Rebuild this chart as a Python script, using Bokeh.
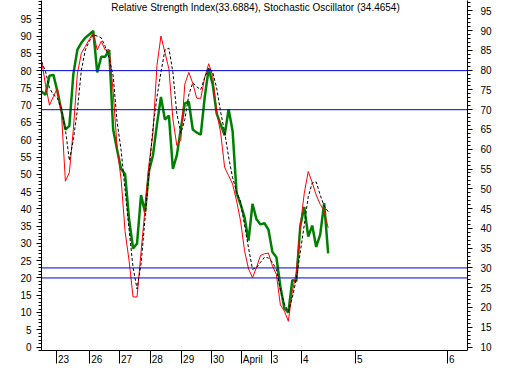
from bokeh.plotting import figure
from bokeh.models import LinearAxis, Range1d, FixedTicker, Span, Label
from bokeh.embed import file_html
from bokeh.resources import INLINE

# Stochastic %K (red), left axis
stoch_k = [83, 76, 70, 72.5, 75, 68, 48, 50.5, 63, 79, 85, 87, 89, 91, 86,
           88.5, 86, 86, 74, 57.5, 48.5, 33.4, 25, 14.5, 14.5, 27.5, 39.9, 53, 62, 81.5, 90,
           85.3, 80.5, 66, 58.3, 60, 76.1, 79.5, 76.3, 72, 72, 78, 82, 78.5, 68, 62,
           52, 49.6, 47.2, 42.3, 36.5, 27.9, 22.6, 20.1, 23, 26.5, 27, 27.2, 23.5, 21, 12.2,
           10.4, 7.5, 16, 21.5, 35, 44.5, 50.8, 47.6, 44, 41.3, 39.4, 34.5]
# Stochastic %D (black dashed), left axis
stoch_d = [82.6, 79.8, 75, 73, 72, 69, 63, 54, 60, 68.5, 80, 86, 88.5, 90.4, 90,
           89.5, 87, 83.5, 78.5, 65, 57, 45.4, 34, 23, 16.8, 24, 37.1, 50.5, 63.5, 72.4, 79.5,
           86, 86.5, 79.5, 67.5, 61.9, 65.8, 73, 76.5, 75.3, 74.5, 78, 80.8, 79.5, 75, 68,
           62.2, 55, 49, 45, 42, 35.3, 28.7, 22.5, 23, 24.5, 26, 25.8, 24.5, 22.5, 16.5,
           12.5, 10.2, 14.3, 19.7, 27.5, 35.3, 43.5, 47.5, 47.8, 44, 40.8, 39.2]
# Relative Strength Index (green), right axis
rsi = [74.6, 73.8, 78.6, 78.8, 74.6, 69.8, 65.0, 65.9, 79.0, 85.1, 86.9, 88.2, 89.0, 89.9, 79.4,
       83.4, 83.4, 85.1, 65.0, 59.8, 55.0, 53.7, 42.3, 34.9, 36.2, 48.4, 44.1, 54.5, 58.5, 66.3, 73.2,
       67.5, 68.5, 55.0, 58.5, 65.2, 71.6, 72.0, 65.0, 64.2, 63.7, 73.2, 80.4, 76.4, 69.0, 66.3,
       63.5, 70.1, 64.6, 48.9, 46.1, 42.8, 36.9, 46.2, 42.3, 41.0, 41.3, 39.7, 34.0, 32.7, 25.3,
       19.8, 18.7, 26.9, 26.7, 40.6, 45.4, 37.9, 40.7, 35.3, 38.4, 46.4, 33.7]

day_labels = ["23", "26", "27", "28", "29", "30", "April", "3", "4", "5", "6"]
day_start_bar = [3.75, 12.1, 19.6, 27.3, 35.2, 42.7, 50.2, 57.7, 65.3, 78.9, 102.0]

stoch_levels = [80, 20]
rsi_levels = [70, 30]
left_ticks = list(range(0, 100, 5))
right_ticks = list(range(10, 100, 5))
title_text = "Relative Strength Index(33.6884), Stochastic Oscillator (34.4654)"

bars = list(range(len(stoch_k)))
FONT = "Liberation Sans"
FS = 10  # px
PX_PER_BAR = 4.0

# approximate glyph advance widths (em) to place day labels just right of their tick line
_adv = {"A": 0.667, "p": 0.556, "r": 0.333, "i": 0.222, "l": 0.222}
def text_w(s):
    return sum(_adv.get(c, 0.556) for c in s) * FS

label_centers = [t + (text_w(s) / 2 + 1.5) / PX_PER_BAR for t, s in zip(day_start_bar, day_labels)]

Y0, Y1 = -1.0, 100.3
p = figure(width=494, height=367, output_backend="svg", toolbar_location=None,
           x_range=Range1d(0, 107), y_range=Range1d(Y0, Y1),
           min_border_left=41, min_border_right=25, min_border_top=0, min_border_bottom=11)
p.extra_y_ranges = {"rsi": Range1d(10 + 0.8734 * Y0, 10 + 0.8734 * Y1)}
p.grid.visible = False
p.outline_line_color = None
p.background_fill_color = "white"
p.border_fill_color = "white"

def style_axis(ax):
    ax.axis_line_color = "black"
    ax.major_tick_line_color = "black"
    ax.minor_tick_line_color = "black"
    ax.major_label_text_font = FONT
    ax.major_label_text_font_size = f"{FS}px"
    ax.major_label_text_color = "black"

yl = p.yaxis[0]
yl.ticker = FixedTicker(ticks=left_ticks, minor_ticks=list(range(-1, 101)))
style_axis(yl)
yl.major_tick_out = 5
yl.major_tick_in = 0
yl.minor_tick_out = 3
yl.minor_tick_in = 0
yl.major_label_standoff = 5

yr = LinearAxis(y_range_name="rsi",
                ticker=FixedTicker(ticks=right_ticks, minor_ticks=list(range(9, 98))))
style_axis(yr)
yr.major_tick_out = 5
yr.major_tick_in = 0
yr.minor_tick_out = 3
yr.minor_tick_in = 0
yr.major_label_standoff = 8
p.add_layout(yr, "right")

xb = p.xaxis[0]
xb.ticker = FixedTicker(ticks=label_centers, minor_ticks=day_start_bar)
xb.major_label_overrides = {c: s for c, s in zip(label_centers, day_labels)}
style_axis(xb)
xb.major_label_standoff = -10
xb.major_tick_out = 0
xb.major_tick_in = 0
xb.minor_tick_out = 13
xb.minor_tick_in = 0

for lv in stoch_levels:
    p.add_layout(Span(location=lv, dimension="width", line_color="#0000dd", line_width=1))
for lv in rsi_levels:
    p.add_layout(Span(location=lv, dimension="width", line_color="#0000dd", line_width=1,
                      y_range_name="rsi"))

p.line(bars, rsi, line_color="#008000", line_width=2.5, y_range_name="rsi")
p.line(bars, stoch_k, line_color="#ff0000", line_width=1)
p.line(bars, stoch_d, line_color="black", line_width=1, line_dash="3 2")

p.add_layout(Label(x=53.75, y=Y1, y_offset=-7, text=title_text, text_align="center",
                   text_baseline="middle", text_font=FONT, text_font_size=f"{FS}px",
                   text_color="black"))

open("out.html", "w").write(file_html(p, INLINE))
